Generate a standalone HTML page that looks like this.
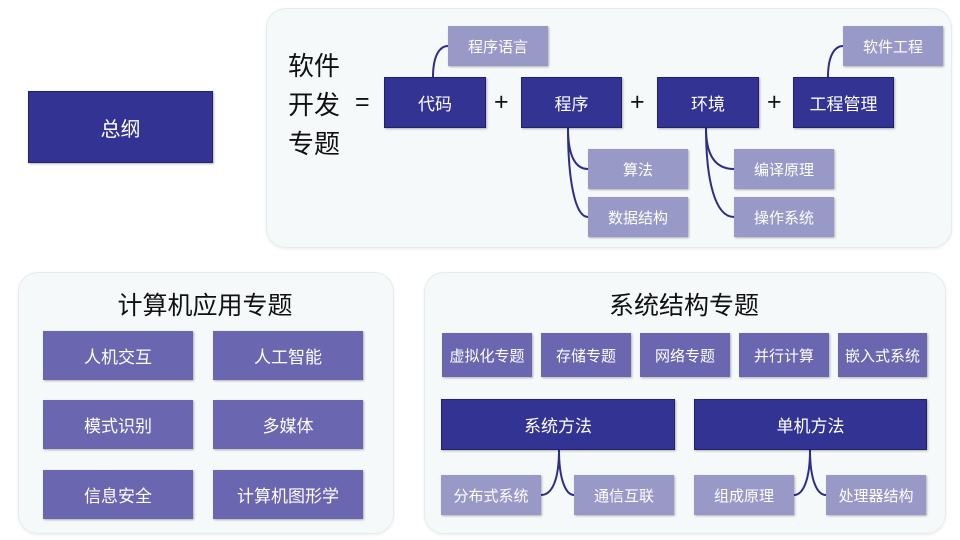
<!DOCTYPE html>
<html><head><meta charset="utf-8"><style>
body{margin:0;width:960px;height:540px;background:#fff;position:relative;overflow:hidden;font-family:"Liberation Sans","Noto Sans CJK SC",sans-serif}
.p{position:absolute;background:#f6f9fa;border:1px solid #e6ecee;border-radius:20px;box-shadow:0 1px 3px rgba(0,0,0,.08)}
.b{position:absolute;display:flex;align-items:center;justify-content:center;color:#fff;box-sizing:border-box;box-shadow:1px 1px 2px rgba(0,0,0,.3)}
.d{background:#333393;border:1px solid #22226a;font-size:17px}
.l{background:#9999c8;font-size:15px}
.m{background:#6a66b0;font-size:17px}
.t{position:absolute;font-size:25px;color:#111}
</style></head><body>
<div class="b d" style="left:28px;top:91px;width:185px;height:72px;font-size:20px">总纲</div>
<div class="p" style="left:266px;top:8px;width:684px;height:238px"></div>
<div class="p" style="left:18px;top:272px;width:374px;height:260px"></div>
<div class="p" style="left:424px;top:272px;width:520px;height:260px"></div>
<div class="t" style="left:288px;top:47px;line-height:39px;font-size:26px">软件<br>开发<br>专题</div>
<div class="t" style="left:355px;top:88px">=</div>
<div class="t" style="left:494px;top:88px">+</div>
<div class="t" style="left:630px;top:88px">+</div>
<div class="t" style="left:767px;top:88px">+</div>
<svg style="position:absolute;left:0;top:0" width="960" height="540" fill="none" stroke="#2e2e8a" stroke-width="2">
<path d="M433 77 C433 55 440 46 448 46"/>
<path d="M828 77 C828 55 835 46 843 46"/>
<path d="M568 128 C568 155 575 169 588 169"/>
<path d="M568 128 C568 180 575 217 588 217"/>
<path d="M706 128 C706 155 715 169 734 169"/>
<path d="M706 128 C706 180 715 217 734 217"/>
<path d="M559 450 C559 480 552 495 541 495"/>
<path d="M559 450 C559 480 566 495 574 495"/>
<path d="M810 450 C810 480 803 495 794 495"/>
<path d="M810 450 C810 480 817 495 826 495"/>
</svg>
<div class="b d" style="left:384px;top:77px;width:102px;height:51px">代码</div>
<div class="b d" style="left:521px;top:77px;width:101px;height:51px">程序</div>
<div class="b d" style="left:657px;top:77px;width:102px;height:51px">环境</div>
<div class="b d" style="left:793px;top:77px;width:101px;height:51px">工程管理</div>
<div class="b l" style="left:448px;top:26px;width:100px;height:40px">程序语言</div>
<div class="b l" style="left:843px;top:26px;width:100px;height:40px">软件工程</div>
<div class="b l" style="left:588px;top:149px;width:100px;height:40px">算法</div>
<div class="b l" style="left:588px;top:197px;width:100px;height:40px">数据结构</div>
<div class="b l" style="left:734px;top:149px;width:100px;height:40px">编译原理</div>
<div class="b l" style="left:734px;top:197px;width:100px;height:40px">操作系统</div>
<div class="t" style="left:18px;width:374px;text-align:center;top:286px;font-size:25px">计算机应用专题</div>
<div class="b m" style="left:43px;top:331px;width:150px;height:49px">人机交互</div>
<div class="b m" style="left:213px;top:331px;width:150px;height:49px">人工智能</div>
<div class="b m" style="left:43px;top:400px;width:150px;height:49px">模式识别</div>
<div class="b m" style="left:213px;top:400px;width:150px;height:49px">多媒体</div>
<div class="b m" style="left:43px;top:470px;width:150px;height:49px">信息安全</div>
<div class="b m" style="left:213px;top:470px;width:150px;height:49px">计算机图形学</div>
<div class="t" style="left:424px;width:520px;text-align:center;top:286px;font-size:25px">系统结构专题</div>
<div class="b m" style="left:442px;top:333px;width:90px;height:44px;font-size:15px">虚拟化专题</div>
<div class="b m" style="left:541px;top:333px;width:90px;height:44px;font-size:15px">存储专题</div>
<div class="b m" style="left:640px;top:333px;width:90px;height:44px;font-size:15px">网络专题</div>
<div class="b m" style="left:739px;top:333px;width:90px;height:44px;font-size:15px">并行计算</div>
<div class="b m" style="left:838px;top:333px;width:89px;height:44px;font-size:15px">嵌入式系统</div>
<div class="b d" style="left:441px;top:399px;width:234px;height:51px">系统方法</div>
<div class="b d" style="left:694px;top:399px;width:233px;height:51px">单机方法</div>
<div class="b l" style="left:441px;top:475px;width:100px;height:40px">分布式系统</div>
<div class="b l" style="left:574px;top:475px;width:100px;height:40px">通信互联</div>
<div class="b l" style="left:694px;top:475px;width:100px;height:40px">组成原理</div>
<div class="b l" style="left:826px;top:475px;width:100px;height:40px">处理器结构</div>
</body></html>
